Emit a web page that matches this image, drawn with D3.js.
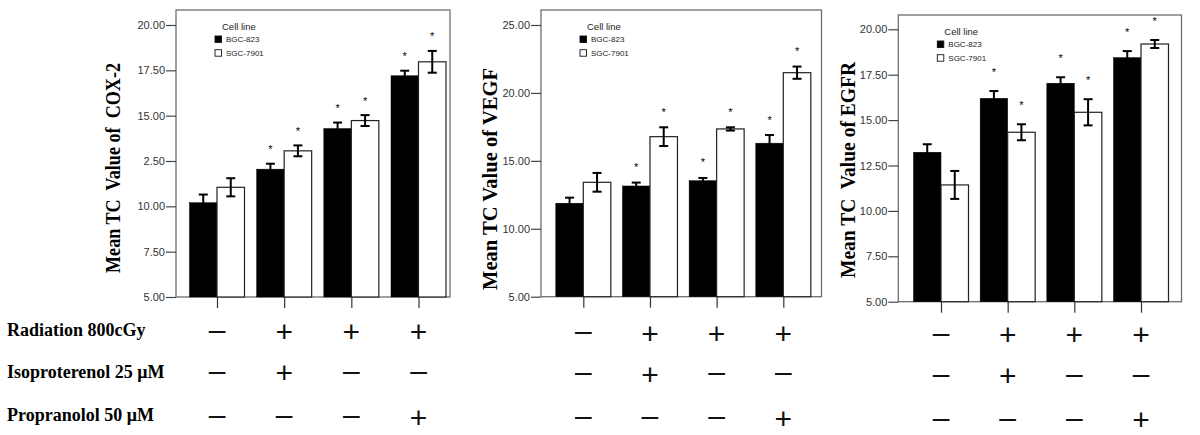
<!DOCTYPE html>
<html><head><meta charset="utf-8">
<script src="https://cdn.jsdelivr.net/npm/d3@7"></script>
<style>body{margin:0;background:#fff} svg{display:block}</style>
</head><body><svg id="c" width="1200" height="435"></svg>
<script>
// ---------- data ----------
const groups = ["G1", "G2", "G3", "G4"];
const seriesNames = ["BGC-823", "SGC-7901"];
const legendTitle = "Cell line";
const treatments = ["Radiation 800cGy", "Isoproterenol 25 μM", "Propranolol 50 μM"];
const radiationSigns = ["–", "+", "+", "+"];
const isoproterenolSigns = ["–", "+", "–", "–"];
const propranololSigns = ["–", "–", "–", "+"];
const significant = [false, true, true, true];

const cox2Title = "Mean TC  Value of  COX-2";
const cox2BGC = [10.2, 12.05, 14.29, 17.2];
const cox2BGCErr = [0.45, 0.3, 0.33, 0.28];
const cox2SGC = [11.05, 13.06, 14.73, 17.97];
const cox2SGCErr = [0.5, 0.3, 0.3, 0.6];
const cox2TickValues = [5, 7.5, 10, 12.5, 15, 17.5, 20];
const cox2TickLabels = ["5.00", "7.50", "10.00", "2.50", "15.00", "17.50", "20.00"];

const vegfTitle = "Mean TC Value of VEGF";
const vegfBGC = [11.88, 13.15, 13.54, 16.3];
const vegfBGCErr = [0.41, 0.25, 0.2, 0.6];
const vegfSGC = [13.42, 16.78, 17.35, 21.49];
const vegfSGCErr = [0.69, 0.69, 0.12, 0.45];
const vegfTickValues = [5, 10, 15, 20, 25];
const vegfTickLabels = ["5.00", "10.00", "15.00", "20.00", "25.00"];

const egfrTitle = "Mean TC  Value of EGFR";
const egfrBGC = [13.23, 16.2, 17.03, 18.44];
const egfrBGCErr = [0.44, 0.4, 0.33, 0.36];
const egfrSGC = [11.43, 14.33, 15.43, 19.19];
const egfrSGCErr = [0.77, 0.44, 0.72, 0.22];
const egfrTickValues = [5, 7.5, 10, 12.5, 15, 17.5, 20];
const egfrTickLabels = ["5.00", "7.50", "10.00", "12.50", "15.00", "17.50", "20.00"];

// ---------- layout ----------
const panels = [
  {title: cox2Title, vals: [cox2BGC, cox2SGC], errs: [cox2BGCErr, cox2SGCErr], tv: cox2TickValues, tl: cox2TickLabels,
   L: 176, R: 450, T: 10, B: 297, yTopPx: 25, x0: 217, x1: 418.5, titleX: 120, titleY: 168, titleLen: 210,
   starGap: 10.5, rows: [331.5, 372.5, 417]},
  {title: vegfTitle, vals: [vegfBGC, vegfSGC], errs: [vegfBGCErr, vegfSGCErr], tv: vegfTickValues, tl: vegfTickLabels,
   L: 541, R: 821.5, T: 10, B: 296.7, yTopPx: 25, x0: 583.3, x1: 783.3, titleX: 497, titleY: 179, titleLen: 222,
   starGap: 11.5, rows: [333, 374, 418]},
  {title: egfrTitle, vals: [egfrBGC, egfrSGC], errs: [egfrBGCErr, egfrSGCErr], tv: egfrTickValues, tl: egfrTickLabels,
   L: 898.3, R: 1181.5, T: 15, B: 301.7, yTopPx: 29.3, x0: 941, x1: 1141, titleX: 855, titleY: 170, titleLen: 216,
   starGap: 15.5, rows: [334.3, 375.7, 419.3]}
];
const signRows = [radiationSigns, isoproterenolSigns, propranololSigns];
const rowLabelBaselines = [335.7, 377.7, 421];

const svg = d3.select("#c");
const bw = 27.5;
const serif = "'Liberation Serif','Times New Roman',Times,serif";
const sans = "'Liberation Sans',Arial,Helvetica,sans-serif";

// row labels
svg.selectAll("text.rowlab").data(treatments).join("text")
  .attr("class", "rowlab")
  .attr("x", 7).attr("y", (d, i) => rowLabelBaselines[i])
  .attr("font-family", serif).attr("font-weight", "bold").attr("font-size", 18)
  .attr("fill", "#000").text(d => d);

panels.forEach(p => {
  const g = svg.append("g");
  const y = d3.scaleLinear().domain([p.tv[0], p.tv[p.tv.length - 1]]).range([p.B, p.yTopPx]);
  const x = d3.scalePoint().domain(groups).range([p.x0, p.x1]);
  const sub = d3.scaleBand().domain(seriesNames).range([-bw, bw]).padding(0);

  // frame
  g.append("rect").attr("x", p.L).attr("y", p.T).attr("width", p.R - p.L).attr("height", p.B - p.T)
    .attr("fill", "none").attr("stroke", "#6e6e6e").attr("stroke-width", 1.3);

  // bars
  seriesNames.forEach((s, si) => {
    const data = groups.map((gname, i) => ({g: gname, v: p.vals[si][i], e: p.errs[si][i], sig: significant[i]}));
    g.selectAll("rect.bar" + si).data(data).join("rect")
      .attr("class", "bar" + si)
      .attr("x", d => x(d.g) + sub(s))
      .attr("width", sub.bandwidth())
      .attr("y", d => y(d.v))
      .attr("height", d => y(p.tv[0]) - y(d.v))
      .attr("fill", si === 0 ? "#000" : "#fff")
      .attr("stroke", si === 0 ? "#000" : "#222")
      .attr("stroke-width", si === 0 ? 0.5 : 1.2);
    // error bars
    const eb = g.selectAll("g.eb" + si).data(data).join("g").attr("class", "eb" + si)
      .attr("transform", d => `translate(${x(d.g) + sub(s) + sub.bandwidth() / 2},0)`)
      .attr("stroke", "#000").attr("stroke-width", 2);
    eb.append("line").attr("x1", 0).attr("x2", 0).attr("y1", d => y(d.v - d.e)).attr("y2", d => y(d.v + d.e));
    eb.append("line").attr("x1", -4.5).attr("x2", 4.5).attr("y1", d => y(d.v - d.e)).attr("y2", d => y(d.v - d.e));
    eb.append("line").attr("x1", -4.5).attr("x2", 4.5).attr("y1", d => y(d.v + d.e)).attr("y2", d => y(d.v + d.e));
    // stars
    g.selectAll("text.star" + si).data(data.filter(d => d.sig)).join("text")
      .attr("class", "star" + si)
      .attr("x", d => x(d.g) + sub(s) + sub.bandwidth() / 2)
      .attr("y", d => y(d.v + d.e) - p.starGap)
      .attr("text-anchor", "middle").attr("font-family", sans).attr("font-size", 11)
      .attr("fill", "#000").text("*");
  });

  // left axis
  const ya = g.append("g").attr("transform", `translate(${p.L},0)`)
    .call(d3.axisLeft(y).tickValues(p.tv).tickFormat((d, i) => p.tl[i]).tickSize(10).tickPadding(1).tickSizeOuter(0));
  ya.select(".domain").remove();
  ya.selectAll(".tick line").attr("stroke", "#444").attr("stroke-width", 1.2);
  ya.selectAll(".tick text").attr("font-family", sans).attr("font-size", 11).attr("fill", "#333");

  // bottom ticks
  const xa = g.append("g").attr("transform", `translate(0,${p.B})`)
    .call(d3.axisBottom(x).tickSize(11).tickFormat(""));
  xa.select(".domain").remove();
  xa.selectAll(".tick line").attr("stroke", "#333").attr("stroke-width", 1.2);

  // y title
  g.append("text")
    .attr("transform", `translate(${p.titleX},${p.titleY}) rotate(-90)`)
    .attr("text-anchor", "middle")
    .attr("font-family", serif).attr("font-weight", "bold").attr("font-size", 22)
    .attr("textLength", p.titleLen).attr("lengthAdjust", "spacingAndGlyphs")
    .style("white-space", "pre")
    .attr("fill", "#000").text(p.title);

  // legend
  const lg = g.append("g").attr("transform", `translate(${p.L},${p.T})`);
  lg.append("text").attr("x", 46).attr("y", 16.7).attr("dy", "0.35em")
    .attr("font-family", sans).attr("font-size", 9.5).attr("fill", "#222").text(legendTitle);
  seriesNames.forEach((s, si) => {
    lg.append("rect").attr("x", 39).attr("y", 26 + si * 13.7).attr("width", 6.5).attr("height", 6.5)
      .attr("fill", si === 0 ? "#000" : "#fff").attr("stroke", "#111").attr("stroke-width", 0.9);
    lg.append("text").attr("x", 50).attr("y", 29.5 + si * 13.7).attr("dy", "0.35em")
      .attr("font-family", sans).attr("font-size", 8).attr("fill", "#222").text(s);
  });

  // treatment signs
  signRows.forEach((row, ri) => {
    g.selectAll("text.sign" + ri).data(groups).join("text")
      .attr("class", "sign" + ri)
      .attr("x", d => x(d))
      .attr("y", (d, i) => p.rows[ri] + (row[i] === "+" ? 0.353 : 0.275) * 30)
      .attr("text-anchor", "middle").attr("font-family", sans).attr("font-size", 30)
      .attr("fill", "#111").text((d, i) => row[i]);
  });
});
</script></body></html>
